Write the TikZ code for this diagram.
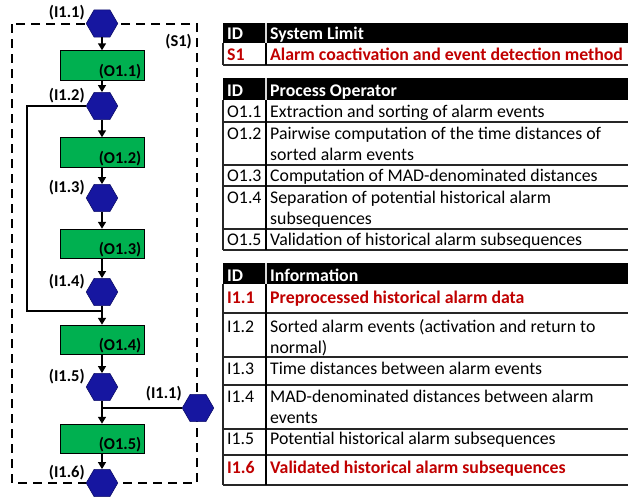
\documentclass[tikz,border=0pt]{standalone}
\usepackage{fontspec}
\setmainfont{Carlito}
\usetikzlibrary{positioning}
\usetikzlibrary{shapes.geometric,arrows.meta}

\definecolor{hexblue}{RGB}{22,22,160}
\definecolor{opgreen}{RGB}{0,176,80}
\definecolor{limred}{RGB}{192,0,0}

\tikzset{
	info/.style={regular polygon, regular polygon sides=6, minimum size=31.5pt, inner sep=0pt,
		fill=hexblue, draw=hexblue!65!black, line width=0.6pt},
	oper/.style={rectangle, fill=opgreen, draw=black, line width=1pt,
		minimum width=84pt, minimum height=29.5pt, inner sep=0pt},
	tag/.style={font=\fontsize{16.5}{18}\selectfont\bfseries, inner sep=0pt},
	flow/.style={line width=1.5pt, -{Triangle[length=7pt,width=8pt]}},
	feed/.style={line width=1.5pt},
	limit/.style={line width=2.6pt, dash pattern=on 9pt off 6pt},
	cell/.style={anchor=base west, inner sep=0pt, font=\fontsize{17.8}{21}\selectfont},
	head/.style={cell, white, font=\fontsize{17.8}{21}\selectfont\bfseries},
	hot/.style={limred, font=\fontsize{17.8}{21}\selectfont\bfseries},
	plain/.style={},
	rowline/.style={line width=1.2pt, black!85},
	colsep/.style={line width=2.4pt},
	headsep/.style={line width=1.5pt, white!85!black},
}

\begin{document}
\begin{tikzpicture}[x=1pt, y=-1pt]
	\useasboundingbox (0,0) rectangle (628,498);
	
	% system limit
	\draw[limit] (12,24) rectangle (197,483);
	\node[tag, anchor=base east] (s1) at (192,46) {(S1)};
	
	% information (hexagons) and operators (boxes)
	\node[info, label={[tag, anchor=base east, xshift=-1pt, yshift=6pt, name=l11]west:(I1.1)}] (h11) at (102,23.5) {};
	\node[oper, label={[tag, anchor=base east, xshift=-3pt, yshift=4.5pt, name=t11]south east:(O1.1)}] (o11) at (102,65.5) {};
	\node[info, label={[tag, anchor=base east, xshift=-1pt, yshift=6pt, name=l12]west:(I1.2)}] (h12) at (102,106) {};
	\node[oper, label={[tag, anchor=base east, xshift=-3pt, yshift=4.5pt, name=t12]south east:(O1.2)}] (o12) at (102,152.5) {};
	\node[info, label={[tag, anchor=base east, xshift=-1pt, yshift=6pt, name=l13]west:(I1.3)}] (h13) at (102,198) {};
	\node[oper, label={[tag, anchor=base east, xshift=-3pt, yshift=4.5pt, name=t13]south east:(O1.3)}] (o13) at (102,244) {};
	\node[info, label={[tag, anchor=base east, xshift=-1pt, yshift=6pt, name=l14]west:(I1.4)}] (h14) at (102,292) {};
	\node[oper, label={[tag, anchor=base east, xshift=-3pt, yshift=4.5pt, name=t14]south east:(O1.4)}] (o14) at (102,340) {};
	\node[info, label={[tag, anchor=base east, xshift=-1pt, yshift=6pt, name=l15]west:(I1.5)}] (h15) at (102,387) {};
	\node[oper, label={[tag, anchor=base east, xshift=-3pt, yshift=4.5pt, name=t15]south east:(O1.5)}] (o15) at (102,439) {};
	\node[info, label={[tag, anchor=base east, xshift=-1pt, yshift=6pt, name=l16]west:(I1.6)}] (h16) at (102,483) {};
	\node[info, label={[tag, anchor=base east, yshift=10pt, name=l11b]west:(I1.1)}] (h11b) at (198,408) {};
	
	% flow
	\draw[flow] (h11) -- (o11);
	\draw[flow] (o11) -- (h12);
	\draw[flow] (h12) -- (o12);
	\draw[flow] (o12) -- (h13);
	\draw[flow] (h13) -- (o13);
	\draw[flow] (o13) -- (h14);
	\draw[flow] (h14) -- (o14);
	\draw[flow] (o14) -- (h15);
	\draw[flow] (h15) -- (o15);
	\draw[flow] (o15) -- (h16);
	
	% side inputs
	\coordinate (loop) at (27,311);
	\draw[feed] (h12.west) -| (loop) -- (o14.north |- loop);
	\draw[feed] (h11b.west) -- (h15 |- h11b);
	
	%%%%%%%%%%%%%%%%%%%%%%%%%%%%%%%%%%%%%%%%%%%%%%%%%%%%%%%%%%%%%%
	% table: system limit
	\fill (223,23) rectangle (628,43);
	\draw[headsep] (266,23) -- (266,43);
	\node[head] (hd1) at (227,39) {ID};
	\node[head] (hd1t) at (270,39) {System Limit};
	\node[cell, hot] (id-s1) at (227,60) {S1};
	\node[cell, hot] (tx-s1) at (270,60) {Alarm coactivation and event detection method};
	\draw[rowline] (223,65) -- (628,65);
	\draw[rowline] (223,43) -- (223,65);
	\draw[colsep] (266,43) -- (266,65);
	
	% table: process operators
	\fill (223,78) rectangle (628,100);
	\draw[headsep] (266,78) -- (266,100);
	\node[head] (hd2) at (227,96) {ID};
	\node[head] (hd2t) at (270,96) {Process Operator};
	\foreach \nm/\y/\id/\txt in {
		o11/117/O1.1/Extraction and sorting of alarm events,
		o12/139/O1.2/Pairwise computation of the time distances of,
		o12b/160//sorted alarm events,
		o13/181/O1.3/Computation of MAD-denominated distances,
		o14/203/O1.4/Separation of potential historical alarm,
		o14b/224//subsequences,
		o15/245/O1.5/Validation of historical alarm subsequences}
	{
		\node[cell] (id-\nm) at (227,\y) {\id};
		\node[cell] (tx-\nm) at (270,\y) {\txt};
	}
	\foreach \y in {122,165,186,229,250}
		\draw[rowline] (223,\y) -- (628,\y);
	\draw[rowline] (223,100) -- (223,250);
	\draw[colsep] (266,100) -- (266,250);
	
	% table: information
	\fill (223,263) rectangle (628,284);
	\draw[headsep] (266,263) -- (266,284);
	\node[head] (hd3) at (227,281) {ID};
	\node[head] (hd3t) at (270,281) {Information};
	\foreach \nm/\y/\id/\st/\txt in {
		i11/303/I1.1/hot/Preprocessed historical alarm data,
		i12/332/I1.2/plain/Sorted alarm events (activation and return to,
		i12b/353//plain/normal),
		i13/374/I1.3/plain/Time distances between alarm events,
		i14/402/I1.4/plain/MAD-denominated distances between alarm,
		i14b/423//plain/events,
		i15/444/I1.5/plain/Potential historical alarm subsequences,
		i16/473/I1.6/hot/Validated historical alarm subsequences}
	{
		\node[cell, \st] (id-\nm) at (227,\y) {\id};
		\node[cell, \st] (tx-\nm) at (270,\y) {\txt};
	}
	\foreach \y in {313,357,385,429,455,485}
		\draw[rowline] (223,\y) -- (628,\y);
	\draw[rowline] (223,284) -- (223,485);
	\draw[colsep] (266,284) -- (266,485);
\end{tikzpicture}
\end{document}
